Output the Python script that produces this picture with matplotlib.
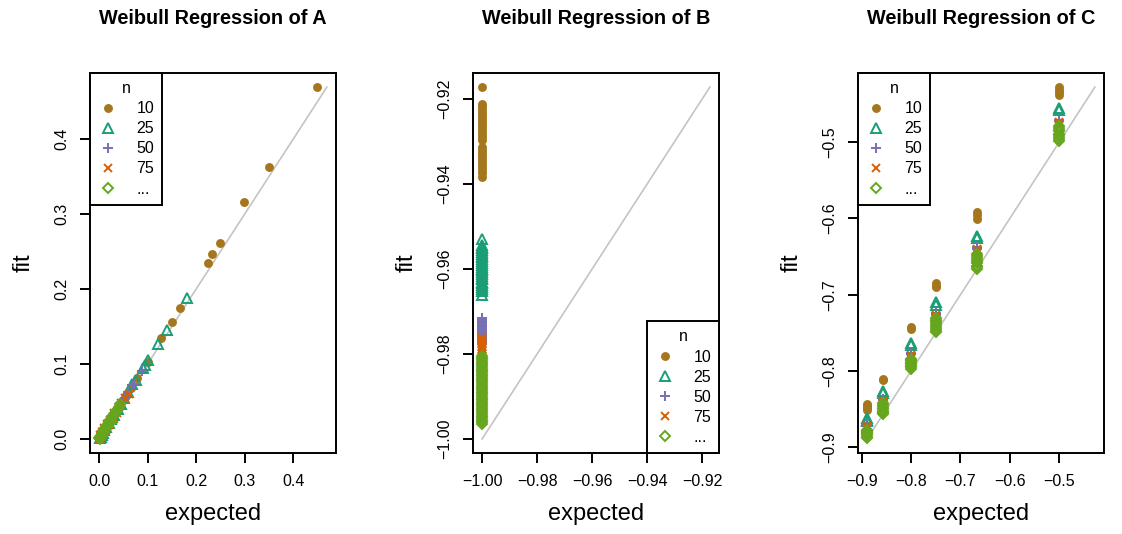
import numpy as np
import matplotlib
matplotlib.use("Agg")
import matplotlib.pyplot as plt
from matplotlib.lines import Line2D
from matplotlib.ticker import FuncFormatter

plt.rcParams['font.family'] = ['Liberation Sans', 'DejaVu Sans']

# series settings shared by all three panels
groups = ["10", "25", "50", "75", "..."]
colors = ["#A6761D", "#1B9E77", "#7570B3", "#D95F02", "#66A61E"]
markers = ["o", "^", "+", "x", "D"]
msizes = [5.0, 6.8, 7.5, 5.8, 5.6]
filled = [True, False, False, False, False]

# ---- A: expected vs fitted values per n ----
a10_exp = [0.449, 0.350, 0.299, 0.249, 0.233, 0.225, 0.167, 0.150, 0.128, 0.101,
           0.078, 0.065, 0.055, 0.048, 0.040, 0.033, 0.028, 0.022, 0.018, 0.014,
           0.010, 0.007, 0.004, 0.002, 0.001]
a10_fit = [0.469, 0.363, 0.316, 0.261, 0.247, 0.235, 0.174, 0.156, 0.134, 0.103,
           0.081, 0.068, 0.057, 0.050, 0.042, 0.035, 0.029, 0.023, 0.019, 0.015,
           0.011, 0.008, 0.005, 0.003, 0.001]
a25_exp = [0.180, 0.140, 0.121, 0.100, 0.095, 0.090, 0.075, 0.068, 0.060, 0.052,
           0.045, 0.038, 0.030, 0.025, 0.020, 0.015, 0.011, 0.008, 0.005, 0.003, 0.001]
a25_fit = [0.188, 0.145, 0.126, 0.105, 0.098, 0.095, 0.078, 0.073, 0.063, 0.055,
           0.047, 0.040, 0.032, 0.026, 0.021, 0.016, 0.012, 0.008, 0.005, 0.003, 0.001]
a50_exp = [0.088, 0.072, 0.068, 0.060, 0.054, 0.050, 0.042, 0.036, 0.030, 0.025,
           0.020, 0.015, 0.010, 0.006, 0.003, 0.001]
a50_fit = [0.091, 0.073, 0.072, 0.062, 0.055, 0.052, 0.043, 0.037, 0.031, 0.025,
           0.020, 0.015, 0.010, 0.006, 0.003, 0.001]
a75_exp = [0.061, 0.054, 0.045, 0.040, 0.036, 0.031, 0.027, 0.024, 0.020, 0.017,
           0.014, 0.011, 0.008, 0.006, 0.004, 0.002, 0.001, 0.030, 0.022, 0.012, 0.005]
a75_fit = [0.060, 0.055, 0.048, 0.042, 0.034, 0.034, 0.025, 0.027, 0.018, 0.020,
           0.012, 0.014, 0.006, 0.009, 0.002, 0.005, 0.000, 0.027, 0.025, 0.010, 0.007]
a99_exp = [0.000, 0.001, 0.002, 0.003, 0.004, 0.005, 0.006, 0.007, 0.008, 0.009,
           0.010, 0.012, 0.013, 0.015, 0.016, 0.018, 0.020, 0.021, 0.023, 0.025,
           0.027, 0.029, 0.031, 0.033, 0.035, 0.038, 0.041, 0.044, 0.002, 0.006,
           0.011, 0.014, 0.019, 0.024]
a99_fit = [0.001, 0.002, 0.002, 0.004, 0.004, 0.006, 0.006, 0.008, 0.009, 0.010,
           0.011, 0.013, 0.014, 0.016, 0.018, 0.019, 0.021, 0.023, 0.025, 0.026,
           0.029, 0.031, 0.033, 0.035, 0.037, 0.040, 0.043, 0.046, 0.000, 0.004,
           0.009, 0.013, 0.017, 0.022]

# ---- B: expected value is -1 for every fit ----
b_expected = -1.0
b10_fit = [-0.9173, -0.9212, -0.9218, -0.9225, -0.9231, -0.9238, -0.9244, -0.9251,
           -0.9257, -0.9263, -0.9270, -0.9277, -0.9284, -0.9291, -0.9298, -0.9314,
           -0.9320, -0.9327, -0.9333, -0.9340, -0.9347, -0.9354, -0.9361, -0.9368,
           -0.9376, -0.9384]
b25_fit = [-0.9529, -0.9545, -0.9549, -0.9552, -0.9556, -0.9560, -0.9565, -0.9569,
           -0.9573, -0.9578, -0.9582, -0.9586, -0.9591, -0.9595, -0.9600, -0.9604,
           -0.9608, -0.9612, -0.9617, -0.9621, -0.9625, -0.9630, -0.9634, -0.9638,
           -0.9643, -0.9647, -0.9652, -0.9662]
b50_fit = [-0.9715, -0.9719, -0.9722, -0.9725, -0.9728, -0.9732, -0.9735, -0.9738,
           -0.9741, -0.9745, -0.9748, -0.9751, -0.9755, -0.9758, -0.9762, -0.9765,
           -0.9769, -0.9772, -0.9776]
b75_fit = [-0.9762, -0.9765, -0.9768, -0.9771, -0.9775, -0.9778, -0.9781, -0.9784,
           -0.9788, -0.9791, -0.9794, -0.9797, -0.9801, -0.9804, -0.9807, -0.9811,
           -0.9814, -0.9818, -0.9822, -0.9826, -0.9830, -0.9835, -0.9840, -0.9845,
           -0.9850]
b99_fit = [-0.9805, -0.9809, -0.9813, -0.9817, -0.9821, -0.9825, -0.9829, -0.9833,
           -0.9837, -0.9841, -0.9845, -0.9849, -0.9853, -0.9857, -0.9861, -0.9865,
           -0.9869, -0.9873, -0.9877, -0.9881, -0.9885, -0.9889, -0.9893, -0.9897,
           -0.9901, -0.9905, -0.9909, -0.9913, -0.9917, -0.9921, -0.9925, -0.9929,
           -0.9933, -0.9937, -0.9941, -0.9945, -0.9949, -0.9953, -0.9957, -0.9961,
           -0.9965]

# ---- C: six expected levels, several fits at each ----
c_expected = [-0.8889, -0.8571, -0.8, -0.75, -0.6667, -0.5]
c10_fit = [[-0.843, -0.846, -0.849, -0.851], [-0.810, -0.812], [-0.742, -0.745],
           [-0.685, -0.688, -0.690], [-0.592, -0.596, -0.601], [-0.428, -0.432, -0.435, -0.438]]
c25_fit = [[-0.862, -0.864, -0.866], [-0.826, -0.829], [-0.763, -0.766],
           [-0.710, -0.713], [-0.623, -0.626], [-0.455, -0.458]]
c50_fit = [[-0.870, -0.872], [-0.836, -0.838], [-0.776, -0.778],
           [-0.724, -0.726], [-0.638, -0.640], [-0.471, -0.473]]
c75_fit = [[-0.872, -0.874], [-0.839, -0.841, -0.843], [-0.779, -0.781, -0.784],
           [-0.727, -0.731, -0.736], [-0.640, -0.645, -0.651], [-0.474, -0.479, -0.486]]
c99_fit = [[-0.877, -0.878, -0.880, -0.881, -0.883, -0.884, -0.886, -0.888],
           [-0.842, -0.844, -0.846, -0.848, -0.850, -0.852, -0.853, -0.855, -0.856],
           [-0.784, -0.786, -0.787, -0.789, -0.790, -0.792, -0.794, -0.795, -0.797],
           [-0.731, -0.733, -0.735, -0.737, -0.740, -0.742, -0.745, -0.747, -0.749],
           [-0.647, -0.649, -0.652, -0.654, -0.657, -0.659, -0.662, -0.664, -0.666],
           [-0.479, -0.481, -0.484, -0.486, -0.489, -0.491, -0.494, -0.496, -0.499]]


def spread(levels, fits):
    xs, ys = [], []
    for lev, vals in zip(levels, fits):
        xs += [lev] * len(vals)
        ys += vals
    return xs, ys


panel_a = [(a10_exp, a10_fit), (a25_exp, a25_fit), (a50_exp, a50_fit),
           (a75_exp, a75_fit), (a99_exp, a99_fit)]
panel_b = [([b_expected] * len(f), f) for f in [b10_fit, b25_fit, b50_fit, b75_fit, b99_fit]]
panel_c = [spread(c_expected, f) for f in [c10_fit, c25_fit, c50_fit, c75_fit, c99_fit]]

panels = [("A", panel_a, "{:.1f}", [0.0, 0.1, 0.2, 0.3, 0.4], "upper left"),
          ("B", panel_b, "{:.2f}", [-1.00, -0.98, -0.96, -0.94, -0.92], "lower right"),
          ("C", panel_c, "{:.1f}", [-0.9, -0.8, -0.7, -0.6, -0.5], "upper left")]

fig = plt.figure(figsize=(11.22, 5.34), dpi=100)
lefts = [90, 473, 858]

for (name, series, fmt, ticks, legloc), left in zip(panels, lefts):
    ax = fig.add_axes([left / 1122, 81 / 534, 246 / 1122, 380 / 534])

    allv = np.concatenate([np.concatenate([s[0], s[1]]) for s in series])
    lo, hi = allv.min(), allv.max()
    pad = 0.04 * (hi - lo)

    ax.plot([lo, hi], [lo, hi], color="#C4C4C4", lw=1.2, zorder=1)
    for (xs, ys), col, mk, ms, fl in zip(series, colors, markers, msizes, filled):
        ax.plot(xs, ys, linestyle="none", marker=mk, ms=ms, mew=1.4,
                color=col, mfc=col if fl else "none", mec=col, zorder=2)

    ax.set_xlim(lo - pad, hi + pad)
    ax.set_ylim(lo - pad, hi + pad)
    ax.set_xticks(ticks)
    ax.set_yticks(ticks)
    tickfmt = FuncFormatter(lambda v, p, f=fmt: f.format(v).replace("-", "\u2212"))
    ax.xaxis.set_major_formatter(tickfmt)
    ax.yaxis.set_major_formatter(tickfmt)
    ax.tick_params(length=7, width=1.4, labelsize=11.5, pad=8)
    for lab in ax.get_yticklabels():
        lab.set_rotation(90)
        lab.set_va("center")
    for sp in ax.spines.values():
        sp.set_linewidth(1.4)

    ax.set_xlabel("expected", fontsize=17, labelpad=10)
    ax.set_ylabel("fit", fontsize=17, labelpad=14)
    ax.set_title("Weibull Regression of " + name, fontsize=14.3,
                 fontweight="bold", pad=35.5)

    handles = [Line2D([], [], linestyle="none", marker=mk, ms=ms, mew=1.4,
                      color=col, mfc=col if fl else "none", mec=col)
               for col, mk, ms, fl in zip(colors, markers, msizes, filled)]
    leg = ax.legend(handles, groups, title="n", loc=legloc, borderaxespad=0,
                    fontsize=11.5, title_fontsize=11.5, fancybox=False,
                    edgecolor="black", framealpha=1, handlelength=1.2,
                    handletextpad=1.2, labelspacing=0.32, borderpad=0.5)
    leg.get_frame().set_linewidth(1.4)
    leg._legend_box.align = "center"

fig.savefig("out.png", dpi=100)
